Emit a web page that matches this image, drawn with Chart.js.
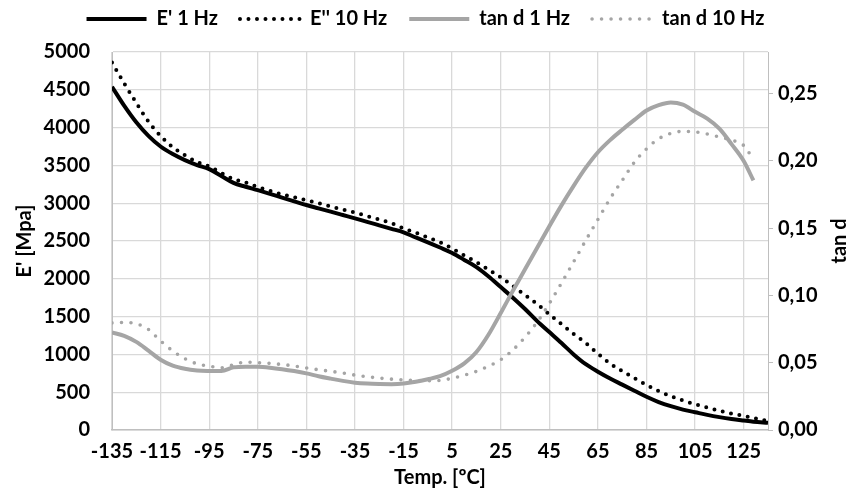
<!DOCTYPE html>
<html>
<head>
<meta charset="utf-8">
<script src="https://cdn.jsdelivr.net/npm/chart.js@4.4.1/dist/chart.umd.min.js"></script>
<style>
html, body { margin: 0; padding: 0; background: #fff; }
</style>
</head>
<body>
<canvas id="myChart" width="851" height="495"></canvas>
<script>
var temps = [-135, -130, -125, -120, -115, -110, -105, -100, -95, -90, -85, -80, -75, -70, -65, -60,
    -55, -50, -45, -40, -35, -30, -25, -20, -15, -10, -5, 0, 5, 10, 15, 20, 25, 30, 35, 40,
    45, 50, 55, 60, 65, 70, 75, 80, 85, 90, 95, 100, 105, 110, 115, 120, 125, 129, 135];

// E' 1 Hz  [MPa]
var eStorage1Hz = [4540, 4290, 4070, 3890, 3750, 3650, 3570, 3505, 3450, 3360, 3268, 3218, 3172, 3124, 3074, 3025,
    2976, 2932, 2888, 2844, 2800, 2753, 2707, 2661, 2615, 2547, 2482, 2414, 2342, 2250, 2154, 2030, 1890, 1750, 1600, 1440,
    1295, 1150, 1000, 870, 770, 680, 600, 520, 440, 370, 315, 270, 235, 200, 170, 145, 125, 110, 95];

// E'' 10 Hz [MPa]
var eLoss10Hz = [4860, 4585, 4327, 4080, 3890, 3740, 3635, 3545, 3487, 3400, 3320, 3275, 3215, 3165, 3115, 3080,
    3040, 3000, 2958, 2915, 2875, 2830, 2785, 2735, 2665, 2610, 2545, 2485, 2400, 2310, 2220, 2120, 2020, 1905, 1785, 1665,
    1530, 1400, 1270, 1150, 1010, 880, 780, 685, 595, 515, 448, 390, 340, 298, 255, 218, 188, 160, 118];

// tan d 1 Hz
var tanD1Hz = [0.0725, 0.0700, 0.0655, 0.0590, 0.0522, 0.0478, 0.0455, 0.0443, 0.0439, 0.0438, 0.0466, 0.0471, 0.0470, 0.0463, 0.0452, 0.0438,
    0.0421, 0.0400, 0.0382, 0.0365, 0.0352, 0.0345, 0.0342, 0.0341, 0.0345, 0.0358, 0.0377, 0.0400, 0.0440, 0.0495, 0.0580, 0.0710, 0.0870, 0.1035, 0.1195, 0.1355,
    0.1515, 0.1670, 0.1815, 0.1950, 0.2065, 0.2155, 0.2232, 0.2305, 0.2375, 0.2415, 0.2435, 0.2418, 0.2365, 0.2315, 0.2240, 0.2125, 0.2000, 0.1855, null];

// tan d 10 Hz
var tanD10Hz = [0.0796, 0.0800, 0.0790, 0.0748, 0.0662, 0.0588, 0.0530, 0.0492, 0.0475, 0.0463, 0.0485, 0.0505, 0.0500, 0.0495, 0.0487, 0.0476,
    0.0461, 0.0448, 0.0436, 0.0424, 0.0408, 0.0396, 0.0386, 0.0378, 0.0372, 0.0369, 0.0367, 0.0368, 0.0385, 0.0408, 0.0436, 0.0475, 0.0522, 0.0595, 0.0690, 0.0802,
    0.0940, 0.1092, 0.1250, 0.1410, 0.1565, 0.1720, 0.1855, 0.1990, 0.2090, 0.2165, 0.2205, 0.2220, 0.2216, 0.2200, 0.2178, 0.2155, 0.2115, 0.2010, null];

var xTicks = [-135, -115, -95, -75, -55, -35, -15, 5, 25, 45, 65, 85, 105, 125];
var rightTicks = [0, 0.05, 0.10, 0.15, 0.20, 0.25];

var xTitle = 'Temp. [\u00baC]';
var leftTitle = "E' [Mpa]";
var rightTitle = 'tan d';

var black = '#000000';
var grey = '#a5a5a5';
var gridColor = '#d9d9d9';
var axisColor = '#bfbfbf';

Chart.defaults.font.family = 'Lato, "Open Sans", sans-serif';
Chart.defaults.font.weight = 'bold';
Chart.defaults.font.size = 20;
Chart.defaults.color = '#000';

var extras = {
    id: 'extras',
    afterLayout: function(chart) {
        // pull the legend row up, its padding also spaces the items apart
        chart.legend.top -= 13;
        chart.legend.bottom -= 13;
    },
    afterDraw: function(chart) {
        var ctx = chart.ctx;
        var area = chart.chartArea;
        ctx.save();
        ctx.translate(chart.scales.y1.right - 11, (area.top + area.bottom) / 2);
        ctx.rotate(-Math.PI / 2);
        ctx.font = 'bold 20px Lato, "Open Sans", sans-serif';
        ctx.fillStyle = '#000';
        ctx.textAlign = 'center';
        ctx.textBaseline = 'middle';
        ctx.fillText(rightTitle, 0, 0);
        ctx.restore();
    }
};

var config = {
    type: 'line',
    data: {
        labels: temps,
        datasets: [{
            label: "E' 1 Hz",
            data: eStorage1Hz,
            yAxisID: 'y',
            borderColor: black,
            backgroundColor: black,
            borderWidth: 4,
            order: 4
        }, {
            label: "E'' 10 Hz",
            data: eLoss10Hz,
            yAxisID: 'y',
            borderColor: black,
            backgroundColor: black,
            borderWidth: 4,
            borderDash: [0, 8.5],
            borderCapStyle: 'round',
            order: 3
        }, {
            label: 'tan d 1 Hz',
            data: tanD1Hz,
            yAxisID: 'y1',
            borderColor: grey,
            backgroundColor: grey,
            borderWidth: 4,
            order: 2
        }, {
            label: 'tan d 10 Hz',
            data: tanD10Hz,
            yAxisID: 'y1',
            borderColor: grey,
            backgroundColor: grey,
            borderWidth: 3.6,
            borderDash: [0, 9.5],
            borderCapStyle: 'round',
            order: 1
        }]
    },
    options: {
        responsive: false,
        animation: false,
        cubicInterpolationMode: 'monotone',
        elements: {
            point: { radius: 0, hoverRadius: 0 },
            line: { fill: false }
        },
        layout: { padding: 0 },
        plugins: {
            tooltip: { enabled: false },
            legend: {
                position: 'top',
                labels: {
                    usePointStyle: true,
                    pointStyle: 'line',
                    pointStyleWidth: 60,
                    padding: 22,
                    color: '#000',
                    font: { size: 20, weight: 'bold' },
                    sort: function(a, b) { return a.datasetIndex - b.datasetIndex; },
                    generateLabels: function(chart) {
                        var items = Chart.defaults.plugins.legend.labels.generateLabels(chart);
                        items.forEach(function(item) {
                            var ds = chart.data.datasets[item.datasetIndex];
                            item.lineDash = ds.borderDash || [];
                            item.lineCap = ds.borderCapStyle || 'butt';
                            item.lineWidth = ds.borderWidth;
                            item.strokeStyle = ds.borderColor;
                        });
                        return items;
                    }
                }
            }
        },
        scales: {
            x: {
                type: 'linear',
                min: -135,
                max: 135,
                afterBuildTicks: function(scale) {
                    scale.ticks = xTicks.map(function(v) { return { value: v }; });
                },
                afterFit: function(scale) { scale.height = 65; },
                ticks: {
                    autoSkip: false,
                    maxRotation: 0,
                    padding: 10,
                    callback: function(v) { return String(v); }
                },
                grid: { color: gridColor, lineWidth: 1.3, drawTicks: false },
                border: { color: axisColor, width: 1.5 },
                title: {
                    display: true,
                    text: xTitle,
                    padding: { top: 0, bottom: 5 }
                }
            },
            y: {
                position: 'left',
                min: 0,
                max: 5000,
                afterFit: function(scale) { scale.width = 112; },
                ticks: {
                    stepSize: 500,
                    padding: 22,
                    callback: function(v) { return String(v); }
                },
                grid: { color: gridColor, lineWidth: 1.3, drawTicks: false },
                border: { color: axisColor },
                title: {
                    display: true,
                    text: leftTitle,
                    padding: { top: 13, bottom: 0 }
                }
            },
            y1: {
                position: 'right',
                min: 0,
                max: 0.281,
                afterBuildTicks: function(scale) {
                    scale.ticks = rightTicks.map(function(v) { return { value: v }; });
                },
                afterFit: function(scale) { scale.width = 83; },
                ticks: {
                    padding: 5,
                    callback: function(v) { return v.toFixed(2).replace('.', ','); }
                },
                grid: { drawOnChartArea: false, color: axisColor, tickLength: 5 },
                border: { color: axisColor }
            }
        }
    },
    plugins: [extras]
};

window.myChart = new Chart(document.getElementById('myChart').getContext('2d'), config);
</script>
</body>
</html>
